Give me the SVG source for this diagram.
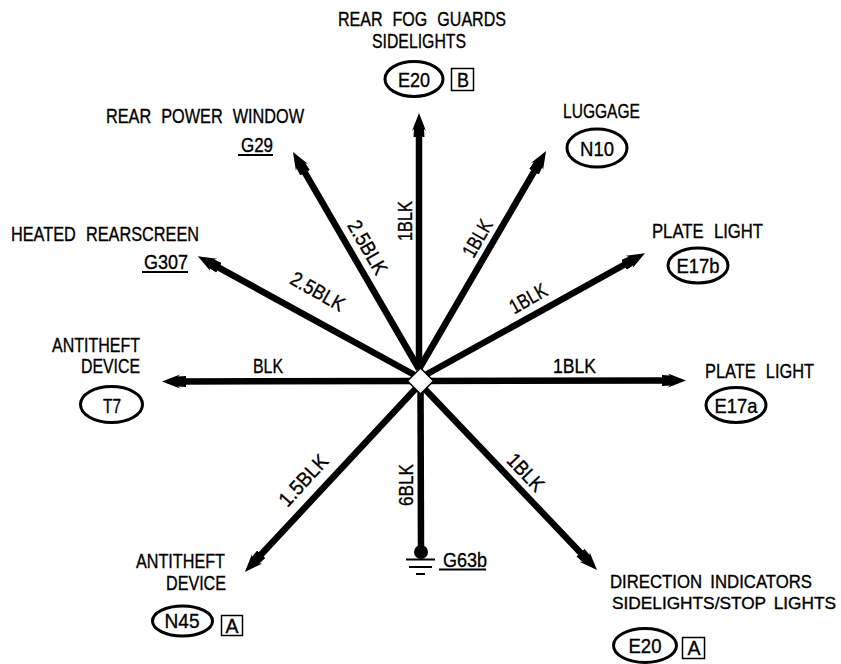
<svg xmlns="http://www.w3.org/2000/svg" width="841" height="664" viewBox="0 0 841 664">
<style>
text{font-family:"Liberation Sans",Arial,sans-serif;font-size:20.5px;fill:#000;stroke:#000;stroke-width:.35;word-spacing:7px}
.m{text-anchor:middle}
.s{font-size:18px;word-spacing:4px}
.t{font-size:17px;word-spacing:3px}
.conn{stroke:#000;stroke-width:6.5;fill:none}
.arr{marker-end:url(#ah)}
.oval{fill:#fff;stroke:#000;stroke-width:3}
.box{fill:#fff;stroke:#000;stroke-width:1.5}
.ul{stroke:#000;stroke-width:1.8}
.g{stroke:#000;stroke-width:2.2}
</style>
<defs>
<marker id="ah" markerUnits="userSpaceOnUse" markerWidth="28" markerHeight="18" viewBox="0 0 28 18" refX="8" refY="9" orient="auto">
<path d="M0,3.500 L8,4 L6,2 L24,9 L6,16 L8,14 L0,14.500 Z" fill="#000"/>
</marker>
</defs>
<rect width="841" height="664" fill="#fff"/>
<g id="connectors">
<path class="conn arr" d="M419,369 L419,129"/>
<path class="conn arr" d="M419,369 L538,164.8"/>
<path class="conn arr" d="M420,378 L631,261"/>
<path class="conn arr" d="M420,381 L670,380.5"/>
<path class="conn arr" d="M420,384 L586,558.4"/>
<path class="conn arr" d="M420,384 L255.8,560.2"/>
<path class="conn arr" d="M420,381 L178,381.5"/>
<path class="conn arr" d="M420,378 L211.9,263.9"/>
<path class="conn arr" d="M419,369 L301,165.8"/>
<path class="conn" d="M420.500,381 L421,552"/>
<g id="wire-labels">
<text class="m" transform="translate(404,221) rotate(-90)" y="7.500" textLength="40" lengthAdjust="spacingAndGlyphs">1BLK</text>
<text class="m" transform="translate(477,238) rotate(-60)" y="7.500" textLength="40" lengthAdjust="spacingAndGlyphs">1BLK</text>
<text class="m" transform="translate(368,247) rotate(60)" y="7.500" textLength="59" lengthAdjust="spacingAndGlyphs">2.5BLK</text>
<text class="m" transform="translate(528,298) rotate(-29.500)" y="7.500" textLength="40" lengthAdjust="spacingAndGlyphs">1BLK</text>
<text class="m" transform="translate(318,291) rotate(29.500)" y="7.500" textLength="59" lengthAdjust="spacingAndGlyphs">2.5BLK</text>
<text x="553" y="373" textLength="43" lengthAdjust="spacingAndGlyphs">1BLK</text>
<text x="253" y="373" textLength="30" lengthAdjust="spacingAndGlyphs">BLK</text>
<text class="m" transform="translate(303,480) rotate(-47.500)" y="7.500" textLength="62" lengthAdjust="spacingAndGlyphs">1.5BLK</text>
<text class="m" transform="translate(405,485) rotate(-90)" y="7.500" textLength="42" lengthAdjust="spacingAndGlyphs">6BLK</text>
<text class="m" transform="translate(526,472) rotate(46.500)" y="7.500" textLength="44" lengthAdjust="spacingAndGlyphs">1BLK</text>
</g>
</g>
<g id="splice"><path d="M420.500,368 L433.500,381 L420.500,394 L407.500,381 Z" fill="#fff" stroke="#000" stroke-width="1.5"/></g>
<g id="node-fog">
<text x="338" y="26" textLength="168" lengthAdjust="spacingAndGlyphs">REAR FOG GUARDS</text>
<text x="372" y="48" textLength="94" lengthAdjust="spacingAndGlyphs">SIDELIGHTS</text>
<ellipse class="oval" cx="414" cy="79" rx="29" ry="17.500"/>
<text class="m" x="414" y="87" textLength="32" lengthAdjust="spacingAndGlyphs">E20</text>
<rect class="box" x="451.500" y="68.500" width="22" height="22"/>
<text class="m" x="463" y="87" textLength="12" lengthAdjust="spacingAndGlyphs">B</text>
</g>
<g id="node-luggage">
<text x="563" y="118" textLength="77" lengthAdjust="spacingAndGlyphs">LUGGAGE</text>
<ellipse class="oval" cx="597" cy="148" rx="30" ry="19"/>
<text class="m" x="597" y="155.500" textLength="34" lengthAdjust="spacingAndGlyphs">N10</text>
</g>
<g id="node-plate-b">
<text x="652" y="238" textLength="111" lengthAdjust="spacingAndGlyphs">PLATE LIGHT</text>
<ellipse class="oval" cx="698" cy="265.500" rx="30" ry="17.500"/>
<text class="m" x="698" y="273" textLength="43" lengthAdjust="spacingAndGlyphs">E17b</text>
</g>
<g id="node-plate-a">
<text x="705" y="378" textLength="109" lengthAdjust="spacingAndGlyphs">PLATE LIGHT</text>
<ellipse class="oval" cx="736" cy="405" rx="30" ry="17.500"/>
<text class="m" x="736" y="412.500" textLength="43" lengthAdjust="spacingAndGlyphs">E17a</text>
</g>
<g id="node-direction">
<text class="s" x="610" y="588" textLength="202" lengthAdjust="spacingAndGlyphs">DIRECTION INDICATORS</text>
<text class="t" x="612" y="609" textLength="224" lengthAdjust="spacingAndGlyphs">SIDELIGHTS/STOP LIGHTS</text>
<ellipse class="oval" cx="645" cy="645.500" rx="31.500" ry="17"/>
<text class="m" x="645" y="653" textLength="33" lengthAdjust="spacingAndGlyphs">E20</text>
<rect class="box" x="682.500" y="637.500" width="22" height="21"/>
<text class="m" x="694" y="655" textLength="13" lengthAdjust="spacingAndGlyphs">A</text>
</g>
<g id="node-ground">
<circle cx="421" cy="552" r="7"/>
<path class="g" d="M406,559.500 H435 M409,567 H432 M416,574 H425"/>
<text x="443" y="567" textLength="44" lengthAdjust="spacingAndGlyphs">G63b</text>
<path class="ul" d="M439,569.500 H486"/>
</g>
<g id="node-antitheft-n45">
<text x="136" y="568" textLength="89" lengthAdjust="spacingAndGlyphs">ANTITHEFT</text>
<text x="166" y="590" textLength="60" lengthAdjust="spacingAndGlyphs">DEVICE</text>
<ellipse class="oval" cx="182.500" cy="621" rx="30" ry="15"/>
<text class="m" x="182" y="628" textLength="35" lengthAdjust="spacingAndGlyphs">N45</text>
<rect class="box" x="221.500" y="615.500" width="21" height="20"/>
<text class="m" x="232" y="633" textLength="13" lengthAdjust="spacingAndGlyphs">A</text>
</g>
<g id="node-antitheft-t7">
<text x="52" y="352" textLength="88" lengthAdjust="spacingAndGlyphs">ANTITHEFT</text>
<text x="81" y="373" textLength="59" lengthAdjust="spacingAndGlyphs">DEVICE</text>
<ellipse class="oval" cx="111.500" cy="404.500" rx="31" ry="18"/>
<text class="m" x="112" y="413" textLength="18" lengthAdjust="spacingAndGlyphs">T7</text>
</g>
<g id="node-heated">
<text x="11" y="241" textLength="188" lengthAdjust="spacingAndGlyphs">HEATED REARSCREEN</text>
<text x="144" y="269" textLength="44" lengthAdjust="spacingAndGlyphs">G307</text>
<path class="ul" d="M142,272 H188"/>
</g>
<g id="node-window">
<text x="106" y="123" textLength="198" lengthAdjust="spacingAndGlyphs">REAR POWER WINDOW</text>
<text x="241" y="152" textLength="32" lengthAdjust="spacingAndGlyphs">G29</text>
<path class="ul" d="M238,155 H273"/>
</g>
</svg>
